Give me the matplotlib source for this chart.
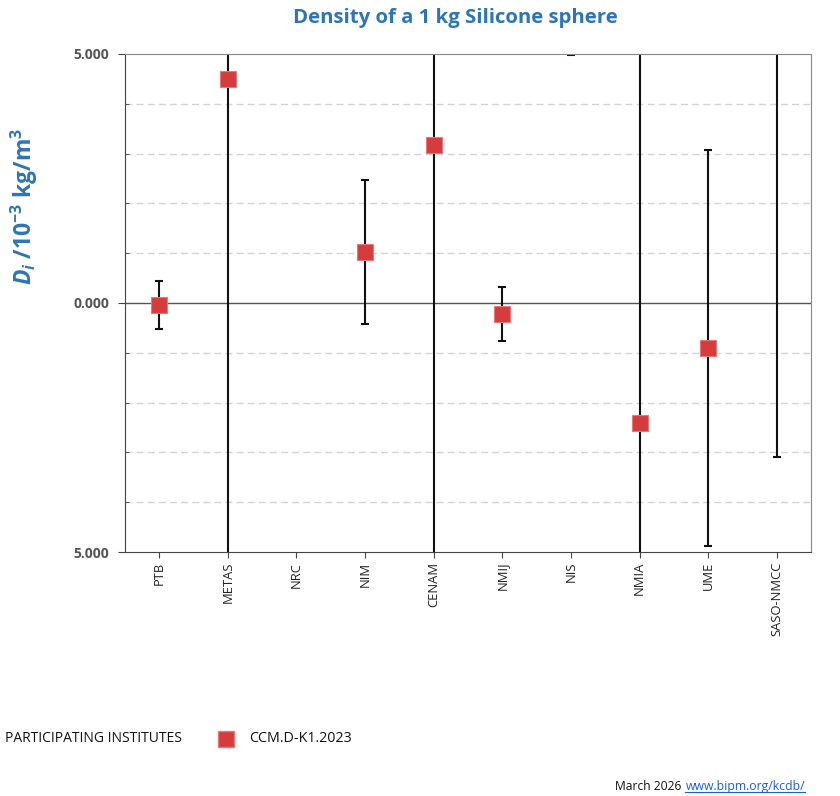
import matplotlib
matplotlib.use("Agg")
import matplotlib.pyplot as plt
from matplotlib.lines import Line2D
import numpy as np

# institutes and their degrees of equivalence (10^-3 kg/m^3)
institutes = ["PTB", "METAS", "NRC", "NIM", "CENAM", "NMIJ", "NIS", "NMIA", "UME", "SASO-NMCC"]
d_values = [-0.04, 4.49, np.nan, 1.02, 3.17, -0.22, 7.0, -2.40, -0.90, 6.0]
d_unc = [0.48, 12.0, np.nan, 1.45, 11.0, 0.54, 2.02, 10.0, 3.97, 9.09]

ytick_vals = [-5, 0, 5]
ytick_labels = ["5.000", "0.000", "5.000"]

BLUE = "#2e75b6"
RED = "#d63c3c"

plt.rcParams["font.family"] = ["Open Sans", "DejaVu Sans"]
plt.rcParams["mathtext.fontset"] = "custom"
plt.rcParams["mathtext.rm"] = "Open Sans:bold"
plt.rcParams["mathtext.it"] = "Open Sans:bold:italic"

fig = plt.figure(figsize=(8.4, 7.96), dpi=100)
ax = fig.add_axes([0.1488, 0.3065, 0.8167, 0.6257])

x = np.arange(len(institutes))

ax.axhline(0, color="#555555", lw=1.0, zorder=1)
ax.errorbar(x, d_values, yerr=d_unc, fmt="none", ecolor="#111111",
            elinewidth=1.5, capsize=3, capthick=1.5, zorder=2)
ax.plot(x, d_values, "s", color=RED, markersize=11, markeredgecolor="#e8787a",
        markeredgewidth=0.8, zorder=3, linestyle="none")

ax.set_xlim(-0.5, len(institutes) - 0.5)
ax.set_ylim(-5, 5)

ax.set_xticks(x)
ax.set_xticklabels(institutes, rotation=90, fontsize=9.4, color="#222222")
ax.tick_params(axis="x", direction="out", length=4, color="#444444", pad=3)

ax.set_yticks(ytick_vals)
ax.set_yticklabels(ytick_labels, fontsize=10, fontweight="bold", color="#555555")
ax.set_yticks([v for v in range(-4, 5) if v != 0], minor=True)
ax.tick_params(axis="y", which="major", direction="out", length=5, color="#444444", pad=6.5)
ax.tick_params(axis="y", which="minor", direction="in", length=3, color="#444444")
ax.grid(axis="y", which="minor", linestyle=(0, (5, 3)), color="#d4d4d4", lw=1.0)

for s in ["left", "bottom"]:
    ax.spines[s].set_color("#444444")
for s in ["top", "right"]:
    ax.spines[s].set_color("#888888")

ax.set_ylabel(r"$D_i$ /10$^{-3}$ kg/m$^3$", fontsize=16.5, fontweight="bold",
              color=BLUE)
ax.yaxis.set_label_coords(-0.124, 0.693)

fig.text(0.542, 0.977, "Density of a 1 kg Silicone sphere", ha="center", va="center",
         fontsize=14.7, fontweight="bold", color=BLUE)

# legend row
fig.text(0.006, 0.072, "PARTICIPATING INSTITUTES", ha="left", va="center",
         fontsize=10, color="#111111")
fig.add_artist(Line2D([0.269], [0.072], marker="s", markersize=12, color=RED,
                      markeredgecolor="#e8787a", transform=fig.transFigure))
fig.text(0.297, 0.072, "CCM.D-K1.2023", ha="left", va="center", fontsize=10.3,
         color="#111111")

# footer
fig.text(0.811, 0.0125, "March 2026", ha="right", va="center", fontsize=8.7, color="#111111")
link = fig.text(0.816, 0.0125, "www.bipm.org/kcdb/", ha="left", va="center",
                fontsize=8.8, color="#1a5fd6")
fig.canvas.draw()
bb = link.get_window_extent().transformed(fig.transFigure.inverted())
fig.add_artist(Line2D([bb.x0, bb.x1], [bb.y0 + 0.001, bb.y0 + 0.001], color="#1a5fd6",
                      lw=0.8, transform=fig.transFigure))

fig.savefig("out.png", dpi=100)
